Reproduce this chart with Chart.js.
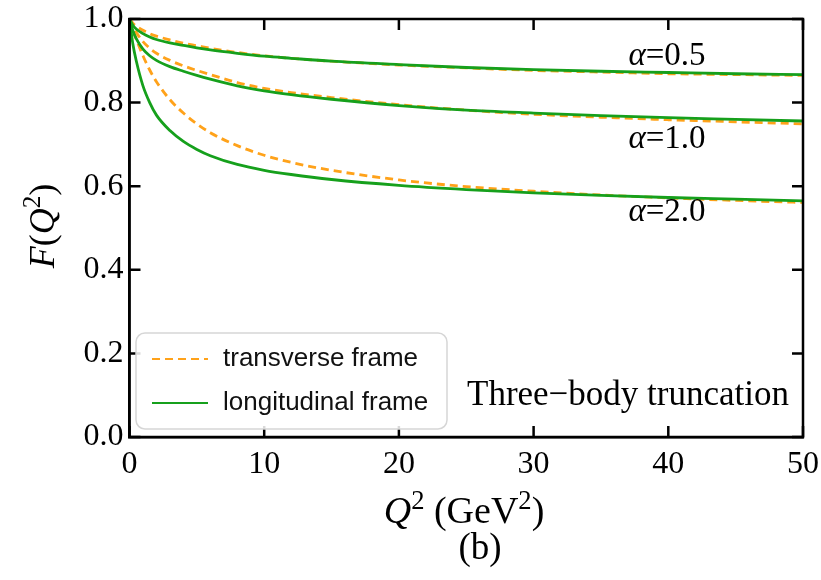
<!DOCTYPE html>
<html>
<head>
<meta charset="utf-8">
<script src="https://cdn.jsdelivr.net/npm/chart.js@4.4.1/dist/chart.umd.min.js"></script>
<style>
  html, body { margin: 0; padding: 0; background: #fff; }
  #wrap { width: 821px; height: 580px; }
</style>
</head>
<body>
<div id="wrap"><canvas id="chartFF" width="821" height="580"></canvas></div>
<script>
      // Q^2 grid (GeV^2) and form factors
      const q2 = [0, 0.25, 0.5, 1, 1.5, 2, 3, 4, 5, 6, 8, 10, 12, 15, 20, 25, 30, 35, 40, 45, 50];

      const transA05 = [1, 0.99, 0.983, 0.973, 0.965, 0.959, 0.950, 0.942, 0.936, 0.930, 0.920, 0.912, 0.906, 0.899, 0.890, 0.883, 0.877, 0.873, 0.869, 0.867, 0.865];
      const longA05  = [1, 0.985, 0.976, 0.965, 0.957, 0.951, 0.943, 0.937, 0.931, 0.926, 0.918, 0.911, 0.906, 0.899, 0.891, 0.884, 0.879, 0.875, 0.872, 0.869, 0.867];

      const transA10 = [1, 0.982, 0.968, 0.946, 0.930, 0.918, 0.901, 0.888, 0.877, 0.867, 0.848, 0.834, 0.824, 0.812, 0.795, 0.782, 0.772, 0.765, 0.759, 0.754, 0.749];
      const longA10  = [1, 0.972, 0.953, 0.928, 0.912, 0.901, 0.886, 0.875, 0.865, 0.856, 0.840, 0.828, 0.819, 0.808, 0.793, 0.782, 0.775, 0.769, 0.764, 0.760, 0.756];

      const transA20 = [1, 0.975, 0.952, 0.912, 0.878, 0.850, 0.807, 0.775, 0.749, 0.728, 0.697, 0.674, 0.657, 0.638, 0.615, 0.599, 0.588, 0.579, 0.572, 0.566, 0.561];
      const longA20  = [1, 0.94, 0.90, 0.84, 0.80, 0.77, 0.733, 0.707, 0.688, 0.673, 0.652, 0.638, 0.628, 0.616, 0.602, 0.592, 0.584, 0.578, 0.573, 0.569, 0.565];

      const alphaLabels = ["0.5", "1.0", "2.0"];
      const seriesNames = ["transverse frame", "longitudinal frame"];
      const xTicks = [0, 10, 20, 30, 40, 50];
      const yTicks = [0, 0.2, 0.4, 0.6, 0.8, 1.0];

      const ORANGE = "#ffa21a";
      const GREEN = "#16a01c";
      const SERIF = "'Liberation Serif', 'Times New Roman', serif";

      const toPts = arr => q2.map((x, i) => ({ x: x, y: arr[i] }));

      const datasets = [];
      [transA05, transA10, transA20].forEach((arr, i) => {
        datasets.push({ label: i === 0 ? seriesNames[0] : "", data: toPts(arr), borderColor: ORANGE, borderWidth: 2.8, borderDash: [8, 5], order: 2 });
      });
      [longA05, longA10, longA20].forEach((arr, i) => {
        datasets.push({ label: i === 0 ? seriesNames[1] : "", data: toPts(arr), borderColor: GREEN, borderWidth: 2.8, order: 1 });
      });

      // inward ticks on all four sides + closed frame
      const frameTicks = {
        id: "frameTicks",
        afterDatasetsDraw(chart) {
          const { ctx, chartArea: a, scales } = chart;
          ctx.save();
          ctx.strokeStyle = "#000";
          ctx.lineWidth = 2.5;
          ctx.strokeRect(a.left, a.top, a.right - a.left, a.bottom - a.top);
          const len = 11;
          ctx.beginPath();
          xTicks.forEach(v => {
            const px = scales.x.getPixelForValue(v);
            ctx.moveTo(px, a.bottom); ctx.lineTo(px, a.bottom - len);
            ctx.moveTo(px, a.top); ctx.lineTo(px, a.top + len);
          });
          yTicks.forEach(v => {
            const py = scales.y.getPixelForValue(v);
            ctx.moveTo(a.left, py); ctx.lineTo(a.left + len, py);
            ctx.moveTo(a.right, py); ctx.lineTo(a.right - len, py);
          });
          ctx.stroke();
          ctx.restore();
        }
      };

      // draws runs of [text, italic, superscript] starting at x
      function drawRuns(ctx, runs, x, y, size) {
        runs.forEach(r => {
          const sz = r[2] ? size * 0.7 : size;
          ctx.font = (r[1] ? "italic " : "") + sz + "px " + SERIF;
          ctx.fillText(r[0], x, r[2] ? y - size * 0.38 : y);
          x += ctx.measureText(r[0]).width;
        });
      }
      function runsWidth(ctx, runs, size) {
        let w = 0;
        runs.forEach(r => {
          const sz = r[2] ? size * 0.7 : size;
          ctx.font = (r[1] ? "italic " : "") + sz + "px " + SERIF;
          w += ctx.measureText(r[0]).width;
        });
        return w;
      }

      const annotations = {
        id: "annotations",
        afterDraw(chart) {
          const { ctx } = chart;
          ctx.save();
          ctx.fillStyle = "#000";
          ctx.textBaseline = "alphabetic";
          ctx.textAlign = "left";

          // alpha labels
          const alphaY = [65, 148, 221];
          alphaLabels.forEach((lab, i) => {
            const runs = [["α", true], ["=" + lab, false]];
            const w = runsWidth(ctx, runs, 33);
            drawRuns(ctx, runs, 667 - w / 2, alphaY[i], 33);
          });

          // truncation note
          ctx.font = "35px " + SERIF;
          ctx.textAlign = "right";
          ctx.fillText("Three\u2212body truncation", 789, 405);
          ctx.textAlign = "left";

          // x title
          const xRuns = [["Q", true], ["2", false, true], [" (GeV", false], ["2", false, true], [")", false]];
          const xw = runsWidth(ctx, xRuns, 38);
          drawRuns(ctx, xRuns, 464 - xw / 2, 523, 38);
          ctx.font = "37px " + SERIF;
          ctx.textAlign = "center";
          ctx.fillText("(b)", 480, 559);
          ctx.textAlign = "left";

          // y title
          const yRuns = [["F", true], ["(", false], ["Q", true], ["2", false, true], [")", false]];
          const yw = runsWidth(ctx, yRuns, 36);
          ctx.translate(54, 226);
          ctx.rotate(-Math.PI / 2);
          drawRuns(ctx, yRuns, -yw / 2, 0, 36);
          ctx.restore();

          // legend box
          ctx.save();
          const lx = 136, ly = 333, lw = 311, lh = 96, r = 9;
          ctx.beginPath();
          ctx.roundRect(lx, ly, lw, lh, r);
          ctx.fillStyle = "rgba(255,255,255,0.85)";
          ctx.fill();
          ctx.strokeStyle = "#d6d6d6";
          ctx.lineWidth = 1.5;
          ctx.stroke();
          const rows = [datasets[0], datasets[3]];
          rows.forEach((ds, i) => {
            const yy = 359 + i * 44;
            ctx.beginPath();
            ctx.setLineDash(ds.borderDash || []);
            ctx.strokeStyle = ds.borderColor;
            ctx.lineWidth = 2.2;
            ctx.moveTo(152, yy); ctx.lineTo(208, yy);
            ctx.stroke();
            ctx.setLineDash([]);
            ctx.fillStyle = "#111";
            ctx.font = "26px 'Liberation Sans', Arial, sans-serif";
            ctx.textBaseline = "middle";
            ctx.fillText(ds.label, 223, yy);
          });
          ctx.restore();
        }
      };

      const chartFF = new Chart(document.getElementById("chartFF").getContext("2d"), {
        type: "line",
        data: { datasets: datasets },
        options: {
          responsive: false,
          animation: false,
          layout: { padding: { left: 0, right: 18, top: 19, bottom: 0 } },
          elements: { point: { radius: 0 }, line: { cubicInterpolationMode: "monotone", fill: false } },
          plugins: { legend: { display: false }, tooltip: { enabled: false } },
          scales: {
            x: {
              type: "linear", min: 0, max: 50,
              afterFit: s => { s.height = 143; s.paddingLeft = 0; s.paddingRight = 0; },
              afterBuildTicks: s => { s.ticks = xTicks.map(v => ({ value: v })); },
              grid: { display: true, drawOnChartArea: false, drawTicks: false },
              border: { display: true, color: "#000", width: 2.5 },
              ticks: { padding: 8, color: "#000", maxRotation: 0, font: { family: SERIF, size: 32 } }
            },
            y: {
              min: 0, max: 1,
              afterFit: s => { s.width = 129.5; s.paddingTop = 0; s.paddingBottom = 0; },
              afterBuildTicks: s => { s.ticks = yTicks.map(v => ({ value: v })); },
              grid: { display: true, drawOnChartArea: false, drawTicks: false },
              border: { display: true, color: "#000", width: 2.5 },
              ticks: { padding: 6, color: "#000", font: { family: SERIF, size: 32 }, callback: v => v.toFixed(1) }
            }
          }
        },
        plugins: [frameTicks, annotations]
      });
</script>
</body>
</html>
